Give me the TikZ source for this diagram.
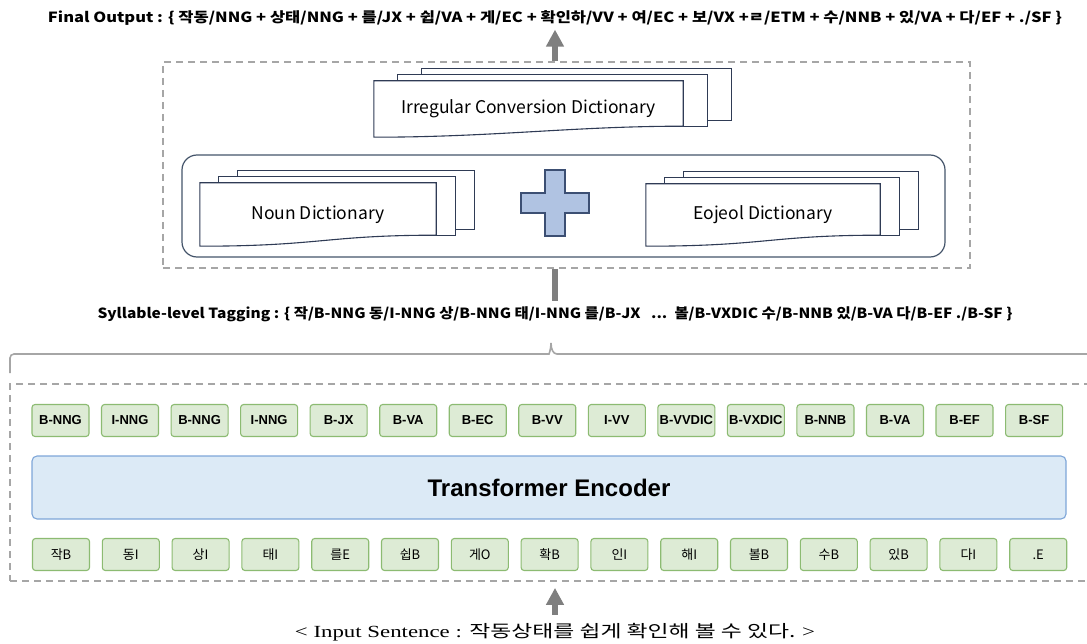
\documentclass[tikz,border=0pt]{standalone}
\usepackage{fontspec}
\usepackage{graphicx}
\setmainfont{Liberation Sans}
\newfontfamily\krfont{Noto Sans CJK KR}
\newfontfamily\serfont{Liberation Serif}
\usepackage{tikz}
\usetikzlibrary{arrows.meta,positioning,backgrounds}

\definecolor{dashgray}{HTML}{A6A6A6}
\definecolor{arrgray}{HTML}{7F7F7F}
\definecolor{docline}{HTML}{2F3B55}
\definecolor{pairline}{HTML}{44546A}
\definecolor{tagfill}{HTML}{DDEBD5}
\definecolor{tagline}{HTML}{8CBB72}
\definecolor{encfill}{HTML}{DCEAF6}
\definecolor{encline}{HTML}{7EA6D8}
\definecolor{plusfill}{HTML}{B0C3E2}
\definecolor{plusline}{HTML}{3C4F73}

\newcommand{\fitw}[2]{\resizebox{#1}{\height}{#2}}
\newcommand{\dictfont}{\krfont\fontsize{17.5}{20}\selectfont}
\newcommand{\tagfont}{\bfseries\fontsize{13}{15}\selectfont}
\newcommand{\infont}{\krfont\fontsize{13}{15}\selectfont}
\newcommand{\outfont}{\krfont\bfseries\fontsize{14}{16}\selectfont}

% stacked pages behind a document node
\newcommand{\docstack}[3]{%
  \foreach \k in {2,1}
    \draw[docedge] ([shift={(\k*#2,\k*#3)}]#1.north west) rectangle ([shift={(\k*#2,\k*#3-5)}]#1.south east);
  \draw[docedge] (#1.south west) -- (#1.north west) -- (#1.north east) -- ([shift={(0,-11)}]#1.south east)
    .. controls +(-110,0) and +(120,0) .. (#1.south west) -- cycle;
}

\begin{document}
\begin{tikzpicture}[x=1pt, y=-1pt,
  dashbox/.style={draw=dashgray, line width=1.8pt, dash pattern=on 7pt off 5pt, inner sep=0pt},
  docbox/.style={minimum width=#1, minimum height=56pt, inner sep=0pt, font=\dictfont},
  docedge/.style={draw=docline, line width=1.1pt, fill=white},
  tagbox/.style={draw=tagline, line width=1.1pt, fill=tagfill, rounded corners=3pt, minimum width=57pt, minimum height=32pt, inner sep=0pt, font=\tagfont},
  inbox/.style={tagbox, font=\infont},
  encbox/.style={draw=encline, line width=1.1pt, fill=encfill, rounded corners=5pt, inner sep=0pt, font=\bfseries\fontsize{24}{28}\selectfont},
  plusbox/.style={draw=plusline, line width=1.2pt, fill=plusfill},
  bigarrow/.style={draw=arrgray, line width=5.5pt, -{Triangle[width=17pt,length=17pt]}},
  barline/.style={draw=arrgray, line width=6pt},
  bracestyle/.style={draw=dashgray, line width=1.6pt},
  outtext/.style={inner sep=0pt, font=\outfont}
]
\useasboundingbox (0,0) rectangle (1087,644);
\clip (0,0) rectangle (1087,644);

% output
\node[outtext] (final) at (555,18) {\fitw{1014pt}{Final Output : \{ 작동/NNG + 상태/NNG + 를/JX + 쉽/VA + 게/EC + 확인하/VV + 여/EC + 보/VX +ㄹ/ETM + 수/NNB + 있/VA + 다/EF + ./SF \}}};

% dictionaries
\node[dashbox, minimum width=807pt, minimum height=206pt] (dict) at (566.5,165) {};
\node[docbox=309pt] (irr) at (528.5,109) {Irregular Conversion Dictionary};
\node[draw=pairline, line width=1.2pt, rounded corners=15pt, minimum width=763pt, minimum height=102pt] (pair) at (563.5,206) {};
\node[docbox=236pt, minimum height=63pt] (noun) at (318,214.5) {Noun Dictionary};
\node[docbox=234pt, minimum height=62pt] (eoj) at (763,215) {Eojeol Dictionary};
\coordinate (plus) at (555,203);
\draw[plusbox, shift={(plus)}] (-10,-33) -- (10,-33) -- (10,-10) -- (34,-10) -- (34,10) -- (10,10)
  -- (10,33) -- (-10,33) -- (-10,10) -- (-34,10) -- (-34,-10) -- (-10,-10) -- cycle;
\begin{scope}[on background layer]
  \docstack{irr}{24}{-6}
  \docstack{noun}{19}{-6}
  \docstack{eoj}{19}{-6}
\end{scope}

% tagging line
\node[outtext] (tagging) at (555,314) {\fitw{915pt}{Syllable-level Tagging : \{ 작/B-NNG 동/I-NNG 상/B-NNG 태/I-NNG 를/B-JX \ \ ...\ \ 볼/B-VXDIC 수/B-NNB 있/B-VA 다/B-EF ./B-SF \}}};
\draw[bracestyle, rounded corners=4pt] (10,373) -- (10,354) -- (545,354) [sharp corners]
  .. controls (549,354) and (551,349) .. (551,343) .. controls (551,349) and (553,354) .. (557,354) -- (1100,354);

% encoder
\node[dashbox, minimum width=1090pt, minimum height=197pt] (encarea) at (555,482.5) {};
\foreach \t [count=\i] in {B-NNG,I-NNG,B-NNG,I-NNG,B-JX,B-VA,B-EC,B-VV,I-VV,B-VVDIC,B-VXDIC,B-NNB,B-VA,B-EF,B-SF}
  \node[tagbox] (tag\i) at ({60.5+69.54*(\i-1)},420.5) {\t};
\node[encbox, minimum width=1034pt, minimum height=63pt] (enc) at (549,487.5) {Transformer Encoder};
\foreach \t [count=\i] in {작B,동I,상I,태I,를E,쉽B,게O,확B,인I,해I,볼B,수B,있B,다I,.E}
  \node[inbox] (in\i) at ({61+69.8*(\i-1)},554.5) {\t};

% input
\node[inner sep=0pt] (sent) at (555,632) {\fitw{520pt}{\fontsize{17}{20}\selectfont\serfont < Input Sentence : \krfont 작동상태를 쉽게 확인해 볼 수 있다. \serfont >}};

% arrows
\draw[bigarrow, shorten >=4pt] (final.south |- dict.north) -- (final.south);
\draw[barline, shorten >=5pt] (dict.south -| tagging.north) -- (tagging.north);
\draw[bigarrow, shorten <=8pt, shorten >=6pt] (sent.north) -- (sent.north |- encarea.south);
\end{tikzpicture}
\end{document}
